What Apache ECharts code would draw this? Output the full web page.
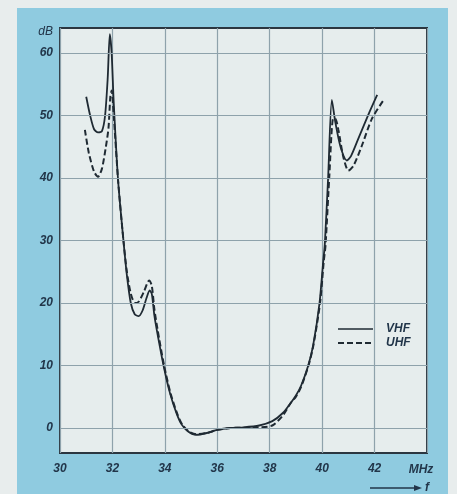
<!DOCTYPE html>
<html>
<head>
<meta charset="utf-8">
<script src="https://cdn.jsdelivr.net/npm/echarts@6/dist/echarts.min.js"></script>
<style>html,body{margin:0;padding:0;background:#e8eded;}#c{width:457px;height:494px;}</style>
</head>
<body>
<div id="c"></div>
<script>
// Frequency (MHz) / attenuation (dB) pairs
var vhfFreq = [31.0, 31.15, 31.3, 31.45, 31.6, 31.72, 31.82, 31.9, 31.97, 32.05, 32.22, 32.42, 32.55, 32.7, 32.85, 33.0, 33.15, 33.3, 33.42, 33.5, 33.6, 33.7, 33.95, 34.2, 34.45, 34.65, 34.9, 35.2, 35.6, 36.0, 36.5, 37.0, 37.6, 38.1, 38.5, 38.8, 39.0, 39.2, 39.47, 39.66, 39.9, 40.04, 40.1, 40.23, 40.37, 40.5, 40.7, 40.94, 41.1, 41.4, 41.8, 42.1];
var vhfDb   = [53.0, 50.0, 47.8, 47.3, 47.5, 50.0, 56.0, 63.0, 60.0, 52.0, 39.4, 30.0, 24.5, 20.0, 18.2, 17.9, 18.8, 20.8, 22.0, 21.5, 18.0, 15.5, 10.0, 5.5, 2.3, 0.5, -0.6, -1.1, -0.8, -0.3, 0.0, 0.1, 0.4, 1.1, 2.4, 4.0, 5.2, 6.8, 10.0, 13.3, 20.0, 26.6, 29.3, 40.2, 52.5, 49.0, 45.0, 42.8, 43.5, 46.5, 50.5, 53.3];
var uhfFreq = [30.95, 31.1, 31.3, 31.45, 31.6, 31.75, 31.85, 31.92, 31.97, 32.05, 32.22, 32.42, 32.55, 32.7, 32.86, 33.0, 33.2, 33.4, 33.5, 33.6, 33.72, 33.97, 34.22, 34.47, 34.67, 34.92, 35.2, 35.6, 36.0, 36.5, 37.0, 37.6, 38.1, 38.5, 38.8, 39.0, 39.2, 39.48, 39.67, 39.92, 40.06, 40.13, 40.27, 40.42, 40.5, 40.62, 40.8, 41.0, 41.2, 41.5, 41.9, 42.35];
var uhfDb   = [47.7, 44.0, 41.0, 40.2, 41.5, 45.0, 48.0, 53.0, 54.0, 50.0, 39.4, 30.0, 25.0, 21.5, 20.0, 20.2, 21.8, 23.6, 22.8, 19.0, 15.8, 10.0, 5.5, 2.3, 0.5, -0.6, -1.0, -0.8, -0.3, 0.0, 0.05, 0.1, 0.4, 2.0, 4.0, 5.0, 6.6, 10.0, 13.3, 20.0, 26.6, 29.3, 40.0, 49.5, 49.5, 47.7, 43.5, 41.2, 42.0, 45.0, 49.5, 52.5];
var yTicks = [0, 10, 20, 30, 40, 50, 60];
var xTicks = [30, 32, 34, 36, 38, 40, 42];
var seriesNames = ['VHF', 'UHF'];

function pairs(xs, ys) { return xs.map(function (x, i) { return [x, ys[i]]; }); }

var txt = '#22364a';
var ink = '#1f2a33';
var font = 'Liberation Sans';
var chart = echarts.init(document.getElementById('c'), null, {renderer: 'canvas'});
chart.setOption({
  animation: false,
  backgroundColor: '#e8eded',
  graphic: [
    {type: 'rect', z: -10, shape: {x: 17, y: 8, width: 431, height: 486}, style: {fill: '#8fcbe0'}},
    {type: 'text', x: 53, y: 32, style: {text: 'dB', fill: txt, font: 'italic 12px ' + font, align: 'right', verticalAlign: 'middle'}},
    {type: 'text', x: 421, y: 470, style: {text: 'MHz', fill: txt, font: 'italic bold 12px ' + font, align: 'center', verticalAlign: 'middle'}},
    {type: 'line', shape: {x1: 370, y1: 488, x2: 418, y2: 488}, style: {stroke: txt, lineWidth: 1.5}},
    {type: 'polygon', shape: {points: [[422, 488], [414, 485], [414, 491]]}, style: {fill: txt}},
    {type: 'text', x: 427, y: 488, style: {text: 'f', fill: txt, font: 'italic bold 12px ' + font, align: 'center', verticalAlign: 'middle'}},
    // legend
    {type: 'line', z: 10, shape: {x1: 338, y1: 329, x2: 373, y2: 329}, style: {stroke: ink, lineWidth: 1.6}},
    {type: 'text', z: 10, x: 386, y: 329, style: {text: seriesNames[0], fill: txt, font: 'italic bold 12px ' + font, verticalAlign: 'middle'}},
    {type: 'line', z: 10, shape: {x1: 338, y1: 343, x2: 373, y2: 343}, style: {stroke: ink, lineWidth: 2, lineDash: [6, 3]}},
    {type: 'text', z: 10, x: 386, y: 343, style: {text: seriesNames[1], fill: txt, font: 'italic bold 12px ' + font, verticalAlign: 'middle'}}
  ],
  grid: {left: 60, top: 28, width: 367, height: 425, show: true, backgroundColor: '#e6eded', borderColor: '#2b3640', borderWidth: 2},
  xAxis: {
    type: 'value', min: 30, max: 44, interval: 2,
    axisLine: {show: false}, axisTick: {show: false},
    axisLabel: {margin: 10, color: txt, fontFamily: font, fontStyle: 'italic', fontWeight: 'bold', fontSize: 12,
      formatter: function (v) { return xTicks.indexOf(v) >= 0 ? String(v) : ''; }},
    splitLine: {show: true, lineStyle: {color: '#8ea2ab', width: 1.2}}
  },
  yAxis: {
    type: 'value', min: -4, max: 64,
    axisLine: {show: false}, axisTick: {show: false},
    axisLabel: {customValues: yTicks, margin: 7, color: txt, fontFamily: font, fontStyle: 'italic', fontWeight: 'bold', fontSize: 12},
    splitLine: {show: false}
  },
  series: [
    {type: 'line', name: 'grid', data: [], z: 1, silent: true,
      markLine: {silent: true, symbol: ['none', 'none'], label: {show: false},
        lineStyle: {color: '#8ea2ab', width: 1.2, type: 'solid'},
        data: yTicks.map(function (v) { return {yAxis: v}; })}},
    {type: 'line', name: seriesNames[0], data: pairs(vhfFreq, vhfDb), z: 3, smooth: 0.25, symbol: 'none',
      lineStyle: {color: ink, width: 1.8}},
    {type: 'line', name: seriesNames[1], data: pairs(uhfFreq, uhfDb), z: 4, smooth: 0.25, symbol: 'none',
      lineStyle: {color: ink, width: 2, type: [6, 3]}}
  ]
});
</script>
</body>
</html>
